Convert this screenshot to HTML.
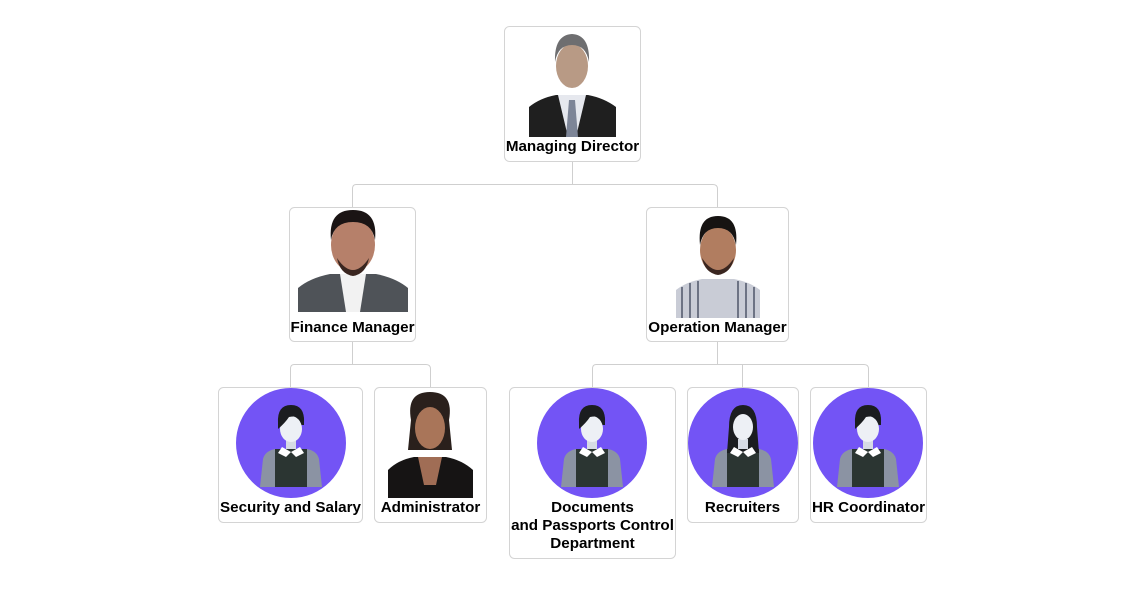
<!DOCTYPE html>
<html><head><meta charset="utf-8"><style>
html,body{margin:0;padding:0;background:#fff;width:1141px;height:595px;overflow:hidden}
text{font-family:"Liberation Sans",Arial,sans-serif;font-weight:bold;font-size:15.2px;fill:#000}
</style></head><body>
<svg width="1141" height="595" viewBox="0 0 1141 595" xmlns="http://www.w3.org/2000/svg">
<defs>
<g id="av">
<circle cx="0" cy="0" r="55" fill="#7354f5"/>
<path d="M-31 44 L-28 16 Q-26 8 -16 6 L16 6 Q26 8 28 16 L31 44 Z" fill="#8b93a3"/>
<path d="M-16 6 L16 6 L16 44 L-16 44 Z" fill="#2b3532"/>
<path d="M-9 4 L-13 10 L-5 14 L0 9 Z" fill="#fff"/><path d="M9 4 L13 10 L5 14 L0 9 Z" fill="#fff"/>
<rect x="-5" y="-6" width="10" height="12" fill="#d6dbe4"/>
<path d="M-13 -20 Q-14 -38 0 -38 Q14 -38 13 -20 L13 -18 L-13 -18 Z" fill="#1b1d20"/>
<ellipse cx="0" cy="-14" rx="11" ry="13" fill="#edf0f5"/>
<path d="M-13 -18 Q-13 -36 0 -36 Q13 -36 13 -22 Q8 -28 -2 -26 Q-6 -20 -13 -14 Z" fill="#1b1d20"/>
</g>
<g id="avf">
<circle cx="0" cy="0" r="55" fill="#7354f5"/>
<path d="M-31 44 L-28 16 Q-26 8 -16 6 L16 6 Q26 8 28 16 L31 44 Z" fill="#8b93a3"/>
<path d="M-16 6 L16 6 L16 44 L-16 44 Z" fill="#2b3532"/>
<path d="M-14 -16 Q-14 -38 0 -38 Q14 -38 14 -16 L16 10 L-16 10 Z" fill="#1b1d20"/>
<path d="M-9 4 L-13 10 L-5 14 L0 9 Z" fill="#fff"/><path d="M9 4 L13 10 L5 14 L0 9 Z" fill="#fff"/>
<rect x="-5" y="-4" width="10" height="10" fill="#d6dbe4"/>
<ellipse cx="0" cy="-16" rx="10" ry="13" fill="#edf0f5"/>
</g>
</defs>
<g fill="none" stroke="#cfcfcf" stroke-width="1">
<path d="M572.5 161 V184.5 M356 184.5 H713 Q717.5 184.5 717.5 189 V207 M356 184.5 Q352.5 184.5 352.5 189 V207"/>
<path d="M352.5 341 V364.5 M294 364.5 H426 Q430.5 364.5 430.5 369 V387 M294 364.5 Q290.5 364.5 290.5 369 V387"/>
<path d="M717.5 341 V364.5 M596 364.5 H864 Q868.5 364.5 868.5 369 V387 M596 364.5 Q592.5 364.5 592.5 369 V387 M742.5 364.5 V387"/>
</g>
<g fill="#fff" stroke="#d4d4d4">
<rect x="504.5" y="26.5" width="136" height="135" rx="5"/>
<rect x="289.5" y="207.5" width="126" height="134" rx="5"/>
<rect x="646.5" y="207.5" width="142" height="134" rx="5"/>
<rect x="218.5" y="387.5" width="144" height="135" rx="5"/>
<rect x="374.5" y="387.5" width="112" height="135" rx="5"/>
<rect x="509.5" y="387.5" width="166" height="171" rx="5"/>
<rect x="687.5" y="387.5" width="111" height="135" rx="5"/>
<rect x="810.5" y="387.5" width="116" height="135" rx="5"/>
</g>
<g>
<rect x="529" y="33" width="87" height="104" fill="#fff"/>
<path d="M529 137 V107 Q540 98 556 95 L588 95 Q604 98 616 107 V137 Z" fill="#1f1f1f"/>
<path d="M558 95 L586 95 L576 137 L568 137 Z" fill="#e6e8ee"/>
<path d="M569 100 L575 100 L578 137 L566 137 Z" fill="#7d8597"/>
<ellipse cx="572" cy="66" rx="16" ry="22" fill="#b89a85"/>
<path d="M555 62 Q554 35 572 34 Q590 35 589 62 Q586 45 572 45 Q558 45 555 62 Z" fill="#6e6e70"/>
</g>
<g>
<rect x="298" y="208" width="110" height="104" fill="#fff"/>
<path d="M298 312 V288 Q310 278 330 274 L376 274 Q396 278 408 288 V312 Z" fill="#4f5358"/>
<path d="M340 274 L366 274 L360 312 L346 312 Z" fill="#f2f2f2"/>
<ellipse cx="353" cy="245" rx="22" ry="27" fill="#b6806a"/>
<path d="M331 240 Q328 210 353 210 Q378 210 375 240 Q372 222 353 222 Q334 222 331 240 Z" fill="#1a1414"/>
<path d="M337 258 Q353 282 369 258 Q366 274 353 276 Q340 274 337 258 Z" fill="#3a2620"/>
</g>
<g>
<rect x="676" y="215" width="84" height="103" fill="#fff"/>
<path d="M676 318 V290 Q686 282 702 279 L734 279 Q750 282 760 290 V318 Z" fill="#c9ccd6"/>
<g stroke="#6d7384" stroke-width="2"><path d="M682 287 V318 M690 283 V318 M698 281 V318 M738 281 V318 M746 283 V318 M754 287 V318"/></g>
<ellipse cx="718" cy="250" rx="18" ry="24" fill="#b17d60"/>
<path d="M700 245 Q697 216 718 216 Q739 216 736 245 Q733 228 718 228 Q703 228 700 245 Z" fill="#161312"/>
<path d="M702 258 Q718 282 734 258 Q731 273 718 275 Q705 273 702 258 Z" fill="#3a2620"/>
</g>
<g>
<rect x="388" y="392" width="85" height="106" fill="#fff"/>
<path d="M411 420 Q406 392 430 392 Q454 392 449 420 L452 450 L408 450 Z" fill="#2a201c"/>
<path d="M388 498 V470 Q398 460 414 457 L446 457 Q462 460 473 470 V498 Z" fill="#161414"/>
<path d="M418 457 L442 457 L436 485 L424 485 Z" fill="#a06d55"/>
<ellipse cx="430" cy="428" rx="15" ry="21" fill="#a97559"/>
</g>
<use href="#av" x="291" y="443"/>
<use href="#av" x="592" y="443"/>
<use href="#avf" x="743" y="443"/>
<use href="#av" x="868" y="443"/>
<g text-anchor="middle">
<text x="572.5" y="151">Managing Director</text>
<text x="352.5" y="332">Finance Manager</text>
<text x="717.5" y="332">Operation Manager</text>
<text x="290.5" y="512">Security and Salary</text>
<text x="430.5" y="512">Administrator</text>
<text x="592.5" y="512">Documents</text>
<text x="592.5" y="530">and Passports Control</text>
<text x="592.5" y="548">Department</text>
<text x="742.5" y="512">Recruiters</text>
<text x="868.5" y="512">HR Coordinator</text>
</g>
</svg>
</body></html>
